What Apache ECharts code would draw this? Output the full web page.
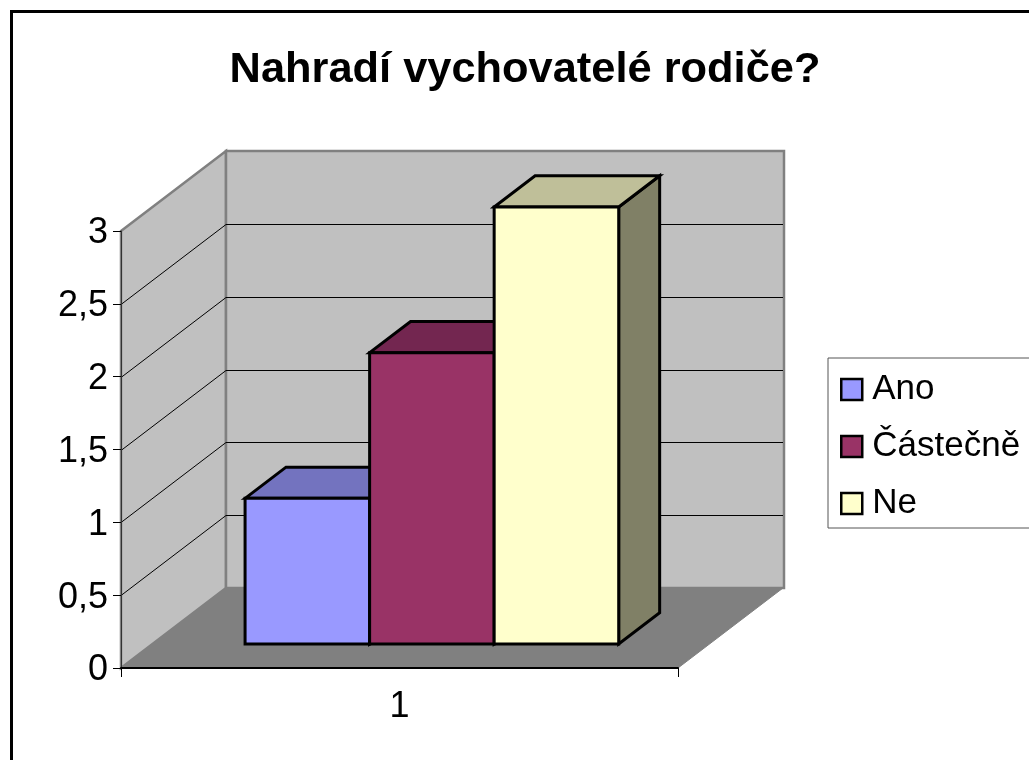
<!DOCTYPE html>
<html>
<head>
<meta charset="utf-8">
<title>Nahradí vychovatelé rodiče?</title>
<script src="https://cdn.jsdelivr.net/npm/echarts@6/dist/echarts.min.js"></script>
<style>
    html, body { margin: 0; padding: 0; background: #fff; overflow: hidden; }
    #chart { width: 1029px; height: 760px; }
</style>
</head>
<body>
<div id="chart"></div>
<script type="text/javascript">
    var categories = ['1'];
    var seriesNames = ['Ano', 'Částečně', 'Ne'];
    var ano = [1];
    var castecne = [2];
    var ne = [3];
    var gridValues = [0.5, 1, 1.5, 2, 2.5];

    var frontColors = ['#9999ff', '#993366', '#ffffcc'];
    var topColors = ['#7373bf', '#732650', '#bfbf99'];
    var sideColors = ['#4d4d80', '#4d1a33', '#808066'];

    // oblique projection of the 3d box
    var depthX = 105, depthY = -80;
    var barDepthStart = 0.3, barDepth = 0.39;
    var gapPart = 0.1662, barPart = 0.2236;

    function poly(points, fill, stroke, width) {
        return {
            type: 'polygon',
            shape: { points: points },
            style: { fill: fill, stroke: stroke, lineWidth: width, lineJoin: 'miter' }
        };
    }

    function renderWalls(params, api) {
        var a = api.coord([0, 0]);
        var top = api.coord([0, 3])[1];
        var band = api.size([1, 0])[0];
        var x0 = a[0] - band / 2, x1 = x0 + band, y0 = a[1];
        var dx = depthX, dy = depthY;
        return {
            type: 'group',
            children: [
                poly([[x0, y0], [x1, y0], [x1 + dx, y0 + dy], [x0 + dx, y0 + dy]], '#808080', '#808080', 1),
                poly([[x0, top], [x0 + dx, top + dy], [x0 + dx, y0 + dy], [x0, y0]], '#c0c0c0', '#808080', 2.5),
                poly([[x0 + dx, top + dy], [x1 + dx + 1, top + dy], [x1 + dx + 1, y0 + dy], [x0 + dx, y0 + dy]], '#c0c0c0', '#808080', 2.5)
            ]
        };
    }

    function renderGridLine(params, api) {
        var a = api.coord([0, api.value(1)]);
        var band = api.size([1, 0])[0];
        var x0 = a[0] - band / 2, y = Math.round(a[1]) + 0.5;
        return {
            type: 'polyline',
            shape: { points: [[x0, y], [x0 + depthX, y + depthY], [x0 + band + depthX, y + depthY]] },
            style: { fill: null, stroke: '#000', lineWidth: 1 }
        };
    }

    function barRenderer(i) {
        return function (params, api) {
            var base = api.coord([0, 0]);
            var y1 = api.coord([0, api.value(1)])[1];
            var band = api.size([1, 0])[0];
            var ox = depthX * barDepthStart, oy = depthY * barDepthStart;
            var bx = depthX * barDepth, by = depthY * barDepth;
            var left = base[0] - band / 2 + ox + band * (gapPart + barPart * i);
            var right = left + band * barPart;
            var bottom = base[1] + oy;
            var up = y1 + oy;
            return {
                type: 'group',
                children: [
                    poly([[right, up], [right + bx, up + by], [right + bx, bottom + by], [right, bottom]], sideColors[i], '#000', 3),
                    poly([[left, up], [left + bx, up + by], [right + bx, up + by], [right, up]], topColors[i], '#000', 3),
                    poly([[left, up], [right, up], [right, bottom], [left, bottom]], frontColors[i], '#000', 3)
                ]
            };
        };
    }

    function barSeries(i, values) {
        return {
            name: seriesNames[i],
            type: 'custom',
            coordinateSystem: 'cartesian2d',
            renderItem: barRenderer(i),
            itemStyle: { color: frontColors[i] },
            encode: { x: 0, y: 1 },
            z: 5,
            data: values.map(function (v, k) { return [k, v]; })
        };
    }

    var myChart = echarts.init(document.getElementById('chart'));
    var option = {
        backgroundColor: '#fff',
        animation: false,
        textStyle: { fontFamily: 'Liberation Sans' },
        title: {
            text: 'Nahradí vychovatelé rodiče?',
            left: 520,
            top: 44,
            textAlign: 'center',
            textStyle: { fontFamily: 'Liberation Sans', fontSize: 43.4, fontWeight: 'bold', color: '#000' }
        },
        graphic: [{
            type: 'rect',
            silent: true,
            z: -1,
            shape: { x: 11.5, y: 11.5, width: 1100, height: 850 },
            style: { fill: null, stroke: '#000', lineWidth: 3 }
        }],
        legend: {
            data: seriesNames,
            orient: 'vertical',
            left: 828,
            top: 358,
            padding: [14, 40, 7, 12],
            itemGap: 22,
            itemWidth: 21,
            itemHeight: 21,
            icon: 'rect',
            selectedMode: false,
            backgroundColor: '#fff',
            borderColor: '#555',
            borderWidth: 1,
            itemStyle: { borderColor: '#000', borderWidth: 2.5 },
            textStyle: { fontFamily: 'Liberation Sans', fontSize: 35, color: '#000', padding: [0, 0, 0, 5] }
        },
        grid: { left: 121, top: 231, width: 557, height: 437, containLabel: false },
        xAxis: {
            type: 'category',
            data: categories,
            z: 10,
            axisLine: { lineStyle: { color: '#000', width: 2 } },
            axisTick: { show: true, length: 9, alignWithLabel: false, lineStyle: { color: '#000' } },
            axisLabel: { fontSize: 36, color: '#000', margin: 21 },
            splitLine: { show: false }
        },
        yAxis: {
            type: 'value',
            min: 0,
            max: 3,
            interval: 0.5,
            z: 10,
            axisLine: { show: true, lineStyle: { color: '#333', width: 1 } },
            axisTick: { show: true, length: 8, lineStyle: { color: '#000' } },
            axisLabel: {
                color: '#000',
                margin: 13,
                formatter: function (v) { return '{t|' + String(v).replace('.', ',') + '}'; },
                rich: { t: { fontSize: 36, color: '#000', fontFamily: 'Liberation Sans', padding: [5, 0, 0, 0] } }
            },
            splitLine: { show: false }
        },
        series: [
            { type: 'custom', renderItem: renderWalls, z: 1, silent: true, data: [[0, 0]] },
            {
                type: 'custom',
                renderItem: renderGridLine,
                z: 2,
                silent: true,
                data: gridValues.map(function (v) { return [0, v]; })
            },
            barSeries(0, ano),
            barSeries(1, castecne),
            barSeries(2, ne)
        ]
    };
    myChart.setOption(option);
    window.onresize = function () { myChart.resize(); };
</script>
</body>
</html>
